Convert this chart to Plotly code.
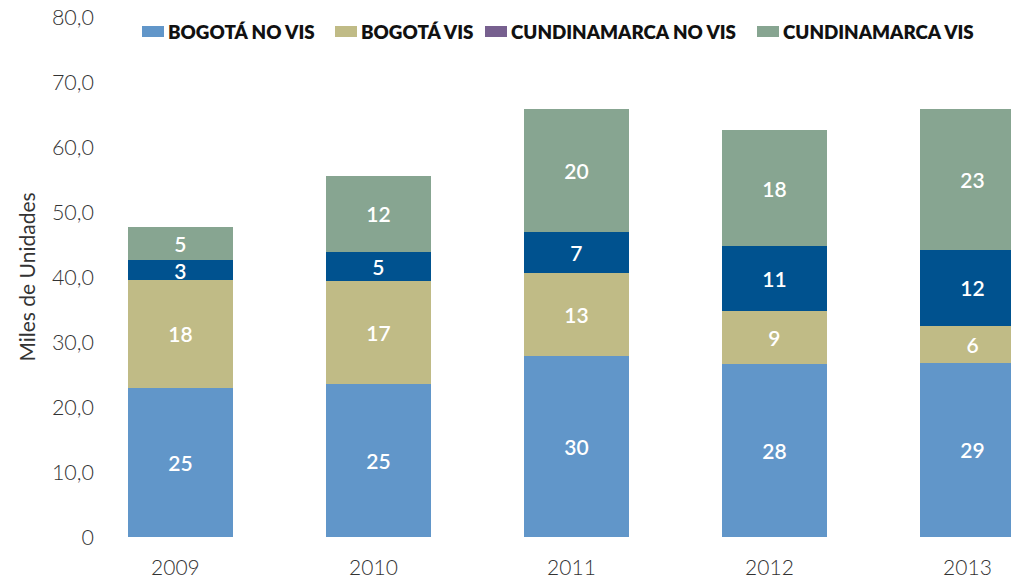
import plotly.graph_objects as go

years = ["2009", "2010", "2011", "2012", "2013"]
series_names = ["BOGOTÁ NO VIS", "BOGOTÁ VIS", "CUNDINAMARCA NO VIS", "CUNDINAMARCA VIS"]

bogota_no_vis = [23.0, 23.5, 27.8, 26.6, 26.8]
bogota_vis = [16.5, 15.9, 12.8, 8.1, 5.7]
cund_no_vis = [3.1, 4.4, 6.3, 10.0, 11.65]
cund_vis = [5.1, 11.8, 18.9, 17.9, 21.7]

bogota_no_vis_lbl = ["25", "25", "30", "28", "29"]
bogota_vis_lbl = ["18", "17", "13", "9", "6"]
cund_no_vis_lbl = ["3", "5", "7", "11", "12"]
cund_vis_lbl = ["5", "12", "20", "18", "23"]

y_ticks = [0, 10, 20, 30, 40, 50, 60, 70, 80]
y_ticktext = ["0", "10,0", "20,0", "30,0", "40,0", "50,0", "60,0", "70,0", "80,0"]

bar_colors = ["#6196C9", "#C0BB86", "#00528F", "#87A591"]
legend_colors = ["#6196C9", "#C0BB86", "#77608F", "#87A591"]

# page body has an 8px default margin; size the figure so it fills the window
OFF = 8
W, H = 1019 - OFF, 579 - OFF
ML, MR, MT, MB = 105 - OFF, 0, 17 - OFF, 42
PW = W - ML - MR
PH = H - MT - MB

fig = go.Figure()
values = [bogota_no_vis, bogota_vis, cund_no_vis, cund_vis]
labels = [bogota_no_vis_lbl, bogota_vis_lbl, cund_no_vis_lbl, cund_vis_lbl]
for name, vals, lbl, col in zip(series_names, values, labels, bar_colors):
    fig.add_trace(go.Bar(
        x=years, y=vals, name=name, text=lbl,
        marker=dict(color=col, line=dict(width=0)),
        textposition="inside", insidetextanchor="middle", textangle=0,
        constraintext="none",
        textfont=dict(family="Lato", size=21, color="white", weight=600),
        width=0.53, showlegend=False,
    ))

# manual legend (swatches + text); positions given in window pixels
def px_x(px):
    return (px - OFF - ML) / PW

def px_y(py):
    return (H - MB - (py - OFF)) / PH

legend_x = [142, 335, 485, 757]
for name, col, lx in zip(series_names, legend_colors, legend_x):
    fig.add_shape(type="rect", xref="paper", yref="paper",
                  x0=px_x(lx), x1=px_x(lx + 22), y0=px_y(37), y1=px_y(26),
                  fillcolor=col, line=dict(width=0))
    fig.add_annotation(xref="paper", yref="paper", x=px_x(lx + 24), y=px_y(31.5),
                       text=name, showarrow=False, xanchor="left", yanchor="middle",
                       font=dict(family="Lato", size=18.8, color="#111111", weight=800))

fig.update_layout(
    width=W, height=H,
    margin=dict(l=ML, r=MR, t=MT, b=MB, autoexpand=False),
    barmode="stack",
    plot_bgcolor="white", paper_bgcolor="white",
    font=dict(family="Lato", color="#333333"),
    xaxis=dict(type="category", range=[-0.381, 4.235], showgrid=False, showline=False,
               zeroline=False, ticks="", ticklabelstandoff=16, ticklabelshift=-5,
               ticklabeloverflow="allow",
               tickfont=dict(family="Lato", size=21, color="#333333", weight=300)),
    yaxis=dict(range=[0, 80], tickvals=y_ticks, ticktext=y_ticktext, showgrid=False,
               zeroline=False, showline=False, ticks="", ticklabelstandoff=10,
               ticklabeloverflow="allow",
               tickfont=dict(family="Lato", size=21.5, color="#333333", weight=300),
               title=dict(text="Miles de Unidades", standoff=10,
                          font=dict(family="Lato", size=21, color="#333333", weight=400))),
)

fig.write_html("out.html")
